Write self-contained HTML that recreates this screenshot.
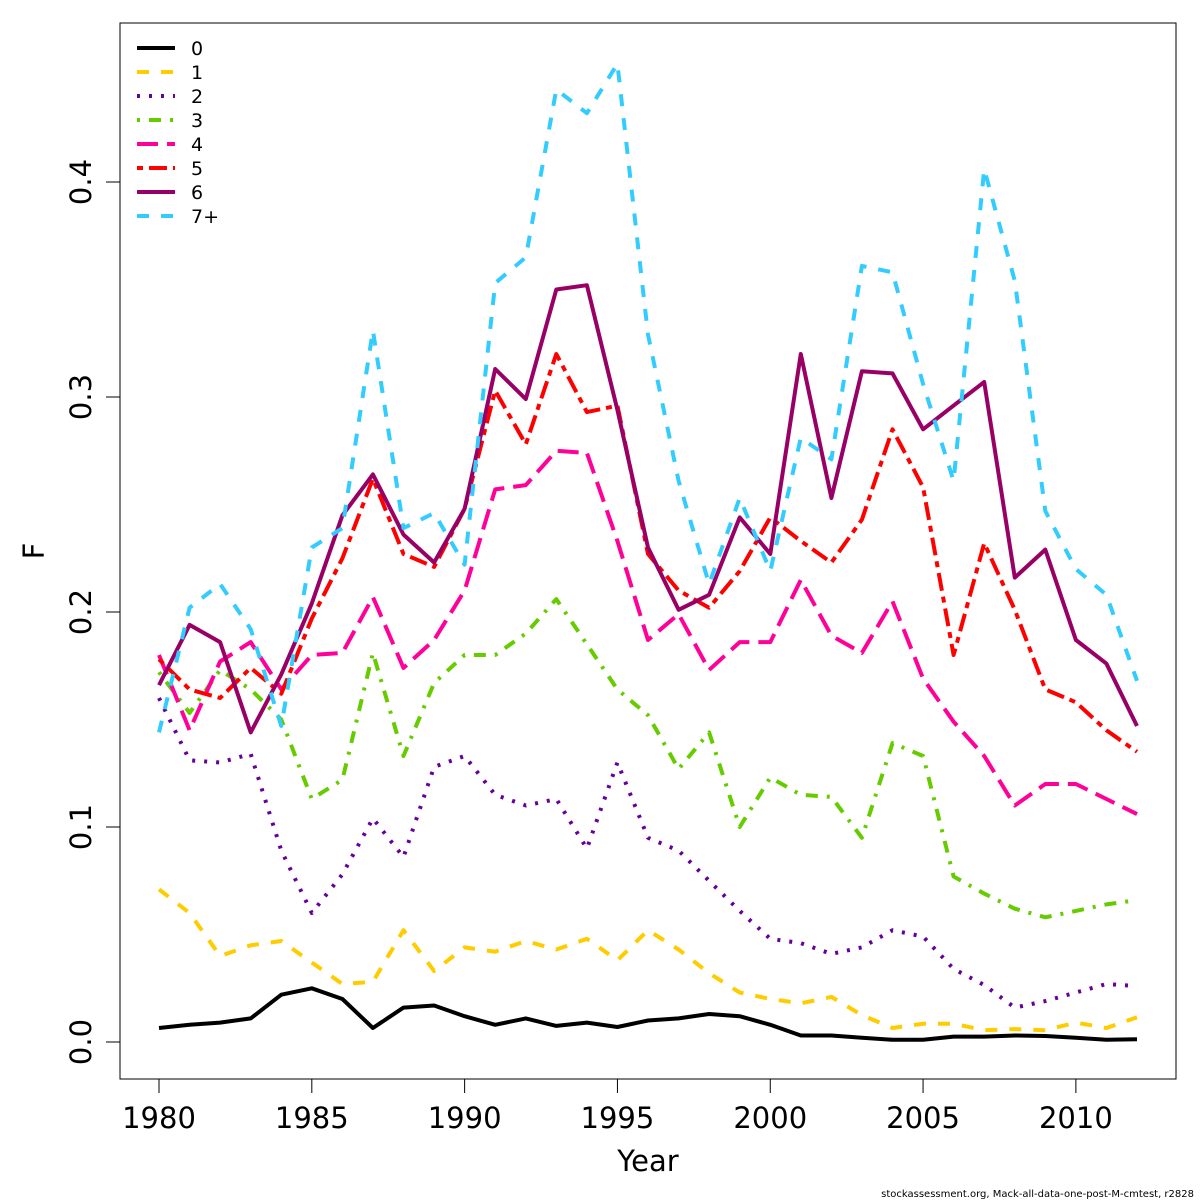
<!DOCTYPE html>
<html><head><meta charset="utf-8"><style>
html,body{margin:0;padding:0;background:#fff;}
svg{display:block;font-family:"DejaVu Sans","Liberation Sans",sans-serif;}
</style></head><body>
<svg id="chart" width="1200" height="1200" viewBox="0 0 1200 1200">
<rect x="120" y="23" width="1056" height="1056" fill="none" stroke="#000" stroke-width="1"/>
<g id="axes"></g>
<g id="series"></g>
<g id="legend"></g>
<text x="648" y="1171" font-size="29" text-anchor="middle">Year</text>
<text x="44" y="551" font-size="29" text-anchor="middle" transform="rotate(-90 44 551)">F</text>
<text x="1194" y="1197" font-size="10" text-anchor="end">stockassessment.org, Mack-all-data-one-post-M-cmtest, r2828</text>
</svg>
<script>
const years = [1980,1981,1982,1983,1984,1985,1986,1987,1988,1989,1990,1991,1992,1993,1994,1995,1996,1997,1998,1999,2000,2001,2002,2003,2004,2005,2006,2007,2008,2009,2010,2011,2012];
const age0 = [0.0065,0.008,0.009,0.011,0.022,0.025,0.020,0.0065,0.016,0.017,0.012,0.008,0.011,0.0075,0.009,0.007,0.010,0.011,0.013,0.012,0.008,0.003,0.003,0.002,0.001,0.001,0.0025,0.0025,0.003,0.0028,0.002,0.001,0.0013];
const age1 = [0.071,0.060,0.040,0.045,0.047,0.037,0.027,0.028,0.052,0.033,0.044,0.042,0.047,0.043,0.048,0.038,0.052,0.043,0.032,0.023,0.020,0.018,0.021,0.0125,0.0065,0.0085,0.0085,0.0055,0.006,0.0055,0.009,0.0065,0.0115];
const age2 = [0.160,0.131,0.130,0.134,0.089,0.060,0.078,0.104,0.086,0.128,0.133,0.115,0.110,0.113,0.090,0.130,0.095,0.089,0.075,0.061,0.048,0.046,0.041,0.044,0.052,0.049,0.034,0.0265,0.016,0.019,0.023,0.027,0.026];
const age3 = [0.172,0.153,0.173,0.164,0.150,0.113,0.122,0.181,0.133,0.167,0.180,0.180,0.190,0.206,0.185,0.164,0.152,0.127,0.144,0.100,0.123,0.115,0.114,0.095,0.139,0.133,0.077,0.069,0.062,0.058,0.061,0.064,0.066];
const age4 = [0.180,0.145,0.177,0.186,0.164,0.180,0.181,0.207,0.174,0.187,0.210,0.257,0.259,0.275,0.274,0.233,0.187,0.199,0.173,0.186,0.186,0.215,0.189,0.181,0.205,0.169,0.149,0.133,0.110,0.120,0.120,0.113,0.106];
const age5 = [0.178,0.164,0.160,0.174,0.162,0.197,0.225,0.262,0.227,0.221,0.248,0.303,0.278,0.320,0.293,0.296,0.227,0.210,0.202,0.219,0.244,0.233,0.223,0.243,0.285,0.258,0.180,0.232,0.201,0.164,0.158,0.145,0.135];
const age6 = [0.166,0.194,0.186,0.144,0.171,0.204,0.245,0.264,0.236,0.223,0.248,0.313,0.299,0.350,0.352,0.294,0.230,0.201,0.208,0.244,0.227,0.320,0.253,0.312,0.311,0.285,0.296,0.307,0.216,0.229,0.187,0.176,0.147];
const age7 = [0.144,0.202,0.213,0.192,0.147,0.230,0.239,0.331,0.239,0.246,0.222,0.353,0.365,0.443,0.432,0.455,0.329,0.261,0.213,0.253,0.219,0.281,0.271,0.361,0.358,0.306,0.261,0.406,0.354,0.247,0.220,0.208,0.168];
const seriesLabels = ["0","1","2","3","4","5","6","7+"];
const xTicks = [1980,1985,1990,1995,2000,2005,2010];
const yTicks = [0.0,0.1,0.2,0.3,0.4];
const yTickLabels = ["0.0","0.1","0.2","0.3","0.4"];

const NS = "http://www.w3.org/2000/svg";
const xScale = y => 159 + (y - 1980) * 30.5625;
const yScale = v => 1042 - v * 2150;
const allSeries = [age0,age1,age2,age3,age4,age5,age6,age7];
const colors = ["#000000","#FFCC00","#660099","#66CC00","#FF0099","#FF0000","#990066","#33CCFF"];
const dashes = ["","12 12","3 9","3 9 12 9","21 9","6 6 18 6","","12 12"];
const names = ["age-0","age-1","age-2","age-3","age-4","age-5","age-6","age-7plus"];

function mk(tag, attrs){const e=document.createElementNS(NS,tag);for(const k in attrs)e.setAttribute(k,attrs[k]);return e;}

const axes = document.getElementById('axes');
xTicks.forEach(t=>{
  const x=xScale(t);
  const l=mk('line',{x1:x,y1:1079,x2:x,y2:1093,stroke:'#000','stroke-width':1});
  
  
  axes.appendChild(l);
  const tx=mk('text',{x:x,y:1128,'font-size':29,'text-anchor':'middle'});
  tx.textContent=t;
  
  
  axes.appendChild(tx);
});
yTicks.forEach((t,i)=>{
  const y=yScale(t);
  const l=mk('line',{x1:106,y1:y,x2:120,y2:y,stroke:'#000','stroke-width':1});
  
  
  axes.appendChild(l);
  const tx=mk('text',{x:91,y:y,'font-size':29,'text-anchor':'middle',transform:`rotate(-90 91 ${y})`});
  tx.textContent=yTickLabels[i];
  
  
  axes.appendChild(tx);
});

const sg=document.getElementById('series');
allSeries.forEach((s,i)=>{
  const pts=s.map((v,j)=>xScale(years[j]).toFixed(1)+','+yScale(v).toFixed(1)).join(' ');
  const p=mk('polyline',{points:pts,fill:'none',stroke:colors[i],'stroke-width':4,'stroke-linejoin':'round'});
  if(dashes[i])p.setAttribute('stroke-dasharray',dashes[i]);
  
  
  sg.appendChild(p);
});

const lg=document.getElementById('legend');
seriesLabels.forEach((lab,i)=>{
  const y=48+i*24;
  const l=mk('line',{x1:137,y1:y,x2:175,y2:y,stroke:colors[i],'stroke-width':4});
  if(dashes[i])l.setAttribute('stroke-dasharray',dashes[i]);
  
  
  lg.appendChild(l);
  const t=mk('text',{x:191,y:y+7,'font-size':19});
  t.textContent=lab;
  
  
  lg.appendChild(t);
});
</script>
</body></html>
